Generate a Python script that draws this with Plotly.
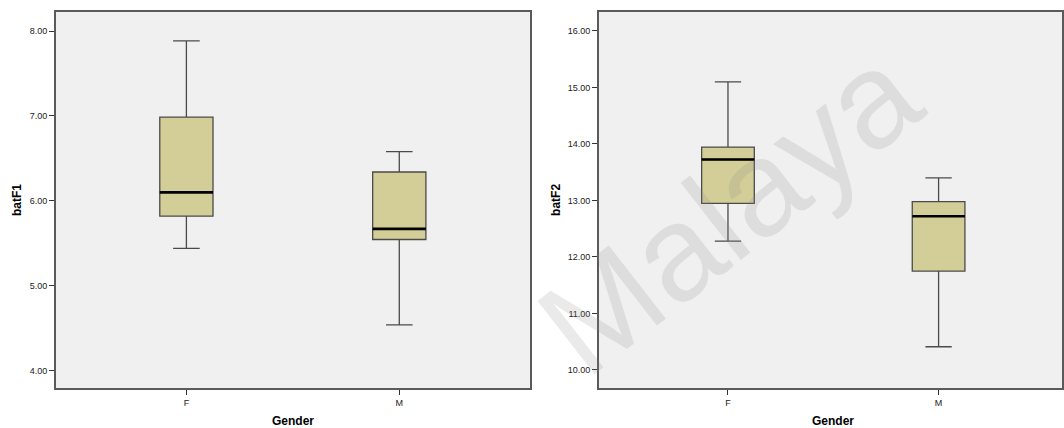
import plotly.graph_objects as go

# Box-plot summary statistics by gender
genders = ["F", "M"]

batF1_lower = [5.44, 4.54]
batF1_q1 = [5.82, 5.545]
batF1_median = [6.10, 5.67]
batF1_q3 = [6.985, 6.34]
batF1_upper = [7.885, 6.58]

batF2_lower = [12.28, 10.41]
batF2_q1 = [12.95, 11.75]
batF2_median = [13.725, 12.72]
batF2_q3 = [13.945, 12.98]
batF2_upper = [15.10, 13.40]

y1_ticks = [4.0, 5.0, 6.0, 7.0, 8.0]
y2_ticks = [10.0, 11.0, 12.0, 13.0, 14.0, 15.0, 16.0]

W, H = 1064, 428
FILL = "rgb(211,206,152)"
EDGE = "#4a4a4a"
BG = "#f0f0f0"
FONT = "Liberation Sans, Arial, sans-serif"
BOX_W = 0.25

pos = list(range(len(genders)))

fig = go.Figure()


def add_boxes(xa, ya, lo, q1, med, q3, hi):
    fig.add_trace(go.Box(
        x=pos, lowerfence=lo, q1=q1, median=med, q3=q3, upperfence=hi,
        width=BOX_W, whiskerwidth=0.5, fillcolor=FILL,
        line=dict(color=EDGE, width=1.3), boxpoints=False,
        xaxis=xa, yaxis=ya, showlegend=False, hoverinfo="skip",
    ))
    # heavier black median bars
    for p, m in zip(pos, med):
        fig.add_trace(go.Scatter(
            x=[p - BOX_W / 2, p + BOX_W / 2], y=[m, m], mode="lines",
            line=dict(color="black", width=2.6), xaxis=xa, yaxis=ya,
            showlegend=False, hoverinfo="skip",
        ))


add_boxes("x", "y", batF1_lower, batF1_q1, batF1_median, batF1_q3, batF1_upper)
add_boxes("x2", "y2", batF2_lower, batF2_q1, batF2_median, batF2_q3, batF2_upper)

top_px, bot_px = 12, 388
ydom = [(H - bot_px) / H, (H - top_px) / H]

xcommon = dict(
    tickmode="array", tickvals=pos, ticktext=genders,
    ticks="outside", ticklen=5, tickcolor="#333", tickwidth=1,
    showline=True, linecolor="#5a5a5a", linewidth=1.5, mirror=True,
    showgrid=False, zeroline=False,
    tickfont=dict(family=FONT, size=9, color="#222"),
)
ycommon = dict(
    tickmode="array", tickformat=".2f",
    ticks="outside", ticklen=5, tickcolor="#333", tickwidth=1,
    showline=True, linecolor="#5a5a5a", linewidth=1.5,
    showgrid=False, zeroline=False,
    tickfont=dict(family=FONT, size=9, color="#222"),
)

fig.update_layout(
    width=W, height=H,
    margin=dict(l=0, r=0, t=0, b=0),
    paper_bgcolor="white",
    plot_bgcolor=BG,
    xaxis=dict(domain=[56 / W, 531 / W], range=[-0.613, 1.614], anchor="y", **xcommon),
    yaxis=dict(domain=ydom, range=[3.796, 8.224], anchor="x", tickvals=y1_ticks, mirror=True, **ycommon),
    xaxis2=dict(domain=[600 / W, 1.0], range=[-0.613, 1.586], anchor="y2", **xcommon),
    yaxis2=dict(domain=ydom, range=[9.68, 16.336], anchor="x2", tickvals=y2_ticks, mirror=True, **ycommon),
)

title_font = dict(family=FONT, size=12, color="black")
annotations = [
    dict(text="<b>batF1</b>", x=17 / W, y=1 - 200 / H, textangle=-90),
    dict(text="<b>Gender</b>", x=293.5 / W, y=1 - 421 / H),
    dict(text="<b>batF2</b>", x=557 / W, y=1 - 200 / H, textangle=-90),
    dict(text="<b>Gender</b>", x=835 / W, y=1 - 421 / H),
]
for a in annotations:
    fig.add_annotation(xref="paper", yref="paper", showarrow=False,
                       xanchor="center", yanchor="middle", font=title_font, **a)

# faint diagonal watermark across the page
fig.add_annotation(
    text="Malaya", xref="paper", yref="paper", x=730 / W, y=1 - 210 / H,
    showarrow=False, textangle=-38, xanchor="center", yanchor="middle",
    font=dict(family="Liberation Sans, Arial, sans-serif", size=135,
              color="rgba(140,140,140,0.18)"),
)

fig.write_html("out.html")
